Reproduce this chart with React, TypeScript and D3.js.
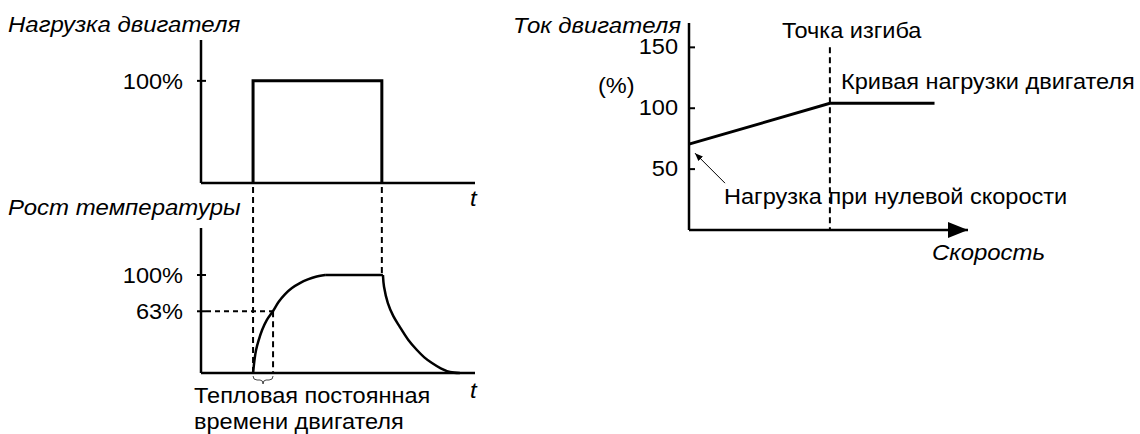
import * as d3 from 'd3';
import React from 'react';

// left charts: time in % of axis length
const loadSteps = [[19, 0], [19, 100], [66, 100], [66, 0]];
const loadTicks = [100];

const tempRise = [[19, 0], [19.6, 15], [20.1, 23.5], [21, 33], [22.3, 43.9], [24, 54], [26.3, 63.3], [28.3, 72.5], [30.7, 80.6], [33.2, 86.8], [36.1, 91.8], [39, 95.5], [41.6, 98], [45.3, 100]];
const tempPlateau = [[45.3, 100], [66.4, 100]];
const tempFall = [[66.4, 100], [66.8, 88], [68.2, 71.4], [70.2, 58], [72.6, 46.9], [75.6, 34], [78.8, 23.5], [81.5, 16], [84.3, 10.2], [87.5, 4.8], [90.9, 1], [94.5, 0]];
const tempTicks = [100, 63];
const timeConst = 26.3;

// right chart: speed vs motor current
const currentCurve = [[0, 70.5], [50.5, 104], [88, 104]];
const currentTicks = [150, 100, 50];
const kneeSpeed = 50.5;

const FONT = '"Liberation Sans", Arial, sans-serif';

function T({ x, y, children, anchor = 'start', italic = false }: any) {
  const sx = italic ? 1.09 : 1.07;
  return (
    <text
      transform={`translate(${x},${y}) scale(${sx},1)`}
      textAnchor={anchor}
      fontFamily={FONT}
      fontSize={22}
      fontStyle={italic ? 'italic' : 'normal'}
      fill="#000"
    >
      {children}
    </text>
  );
}

function App() {
  const xL = d3.scaleLinear().domain([0, 100]).range([201, 475]);
  const yLoad = d3.scaleLinear().domain([0, 140]).range([183, 40]);
  const yTemp = d3.scaleLinear().domain([0, 148]).range([373, 228]);

  const xR = d3.scaleLinear().domain([0, 100]).range([689, 968]);
  const yR = d3.scaleLinear().domain([0, 170]).range([230, 23]);

  const loadLine = d3.line().x(d => xL(d[0])).y(d => yLoad(d[1]));
  const tempLine = d3.line().x(d => xL(d[0])).y(d => yTemp(d[1])).curve(d3.curveCatmullRom.alpha(0.5));
  const curLine = d3.line().x(d => xR(d[0])).y(d => yR(d[1]));

  const tOn = loadSteps[0][0];
  const tOff = loadSteps[2][0];
  const bx1 = xL(tOn), bx2 = xL(timeConst), bm = (bx1 + bx2) / 2;
  const by = yTemp(0);

  const dash = '6,4';
  const x0R = xR(0), y0R = yR(0);
  const xEnd = xR(100);

  return (
    <svg width={1140} height={434} style={{ position: 'absolute', left: 0, top: 0 }}>
      <defs>
        <marker id="ah" viewBox="0 0 10 10" refX="10" refY="5" markerWidth="8" markerHeight="8" orient="auto">
          <path d="M0,1 L10,5 L0,9 Z" fill="#000" />
        </marker>
      </defs>

      {/* ---- motor load ---- */}
      <T x={8} y={32} italic>Нагрузка двигателя</T>
      <line x1={xL(0)} y1={yLoad(0)} x2={xL(0)} y2={yLoad(140)} stroke="#000" strokeWidth={2.5} />
      <line x1={xL(0)} y1={yLoad(0)} x2={xL(100)} y2={yLoad(0)} stroke="#000" strokeWidth={2.5} />
      {loadTicks.map(t => (
        <g key={t}>
          <line x1={xL(0) - 4} x2={xL(0) + 5} y1={yLoad(t)} y2={yLoad(t)} stroke="#000" strokeWidth={2} />
          <T x={183} y={yLoad(t) + 8} anchor="end">{t}%</T>
        </g>
      ))}
      <path d={loadLine(loadSteps as any) || ''} fill="none" stroke="#000" strokeWidth={3} />
      <T x={470} y={206} italic>t</T>

      {/* dashed connectors */}
      <line x1={xL(tOn)} x2={xL(tOn)} y1={yLoad(0) + 4} y2={yTemp(0)} stroke="#000" strokeWidth={2} strokeDasharray={dash} />
      <line x1={xL(tOff)} x2={xL(tOff)} y1={yLoad(0) + 4} y2={yTemp(100)} stroke="#000" strokeWidth={2} strokeDasharray={dash} />

      {/* ---- temperature rise ---- */}
      <T x={8} y={215} italic>Рост температуры</T>
      <line x1={xL(0)} y1={yTemp(0)} x2={xL(0)} y2={yTemp(148)} stroke="#000" strokeWidth={2.5} />
      <line x1={xL(0)} y1={yTemp(0)} x2={xL(100)} y2={yTemp(0)} stroke="#000" strokeWidth={2.5} />
      {tempTicks.map(t => (
        <g key={t}>
          <line x1={xL(0) - 4} x2={xL(0) + 5} y1={yTemp(t)} y2={yTemp(t)} stroke="#000" strokeWidth={2} />
          <T x={183} y={yTemp(t) + 8} anchor="end">{t}%</T>
        </g>
      ))}
      <line x1={xL(0) + 5} x2={xL(timeConst)} y1={yTemp(63)} y2={yTemp(63)} stroke="#000" strokeWidth={2} strokeDasharray="5,4" />
      <line x1={xL(timeConst)} x2={xL(timeConst)} y1={yTemp(63)} y2={yTemp(0)} stroke="#000" strokeWidth={2} strokeDasharray={dash} />
      {[tempRise, tempPlateau, tempFall].map((seg, i) => (
        <path key={i} d={tempLine(seg as any) || ''} fill="none" stroke="#000" strokeWidth={2.5} />
      ))}
      <path
        d={`M${bx1},${by + 3} Q${bx1},${by + 7} ${bx1 + 4},${by + 7} L${bm - 3},${by + 7} Q${bm},${by + 7} ${bm},${by + 11} Q${bm},${by + 7} ${bm + 3},${by + 7} L${bx2 - 4},${by + 7} Q${bx2},${by + 7} ${bx2},${by + 3}`}
        fill="none" stroke="#444" strokeWidth={1}
      />
      <T x={470} y={398} italic>t</T>
      <T x={194} y={403}>Тепловая постоянная</T>
      <T x={194} y={429}>времени двигателя</T>

      {/* ---- motor current ---- */}
      <T x={681} y={33} anchor="end" italic>Ток двигателя</T>
      <T x={598} y={93}>(%)</T>
      <line x1={x0R} y1={y0R} x2={x0R} y2={yR(170)} stroke="#000" strokeWidth={2.5} />
      <line x1={x0R} y1={y0R} x2={xEnd} y2={y0R} stroke="#000" strokeWidth={2.5} markerEnd="url(#ah)" />
      {currentTicks.map(t => (
        <g key={t}>
          <line x1={x0R} x2={x0R + 6} y1={yR(t)} y2={yR(t)} stroke="#000" strokeWidth={2} />
          <T x={678} y={yR(t) + 7} anchor="end">{t}</T>
        </g>
      ))}
      <line x1={xR(kneeSpeed)} x2={xR(kneeSpeed)} y1={yR(150)} y2={y0R} stroke="#000" strokeWidth={2} strokeDasharray={dash} />
      <path d={curLine(currentCurve as any) || ''} fill="none" stroke="#000" strokeWidth={3} />
      <T x={782} y={38}>Точка изгиба</T>
      <T x={841} y={89}>Кривая нагрузки двигателя</T>
      <line x1={x0R + 36} y1={yR(currentCurve[0][1]) + 39} x2={x0R + 6} y2={yR(currentCurve[0][1]) + 9} stroke="#000" strokeWidth={1} markerEnd="url(#ah)" />
      <T x={724} y={204}>Нагрузка при нулевой скорости</T>
      <T x={932} y={260} italic>Скорость</T>
    </svg>
  );
}

export default App;
